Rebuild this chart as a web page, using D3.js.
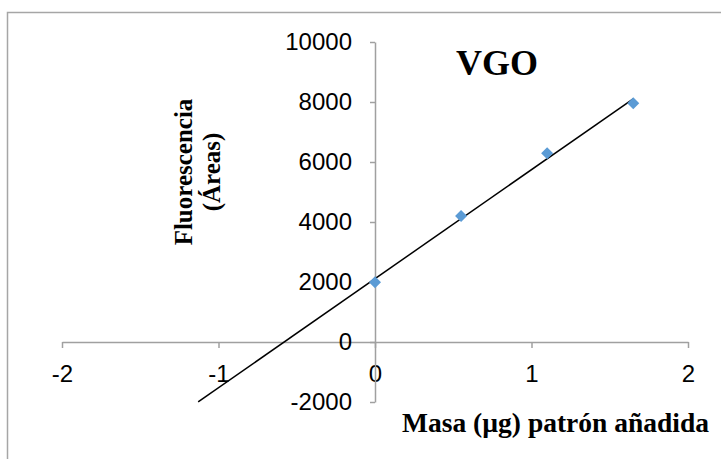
<!DOCTYPE html>
<html>
<head>
<meta charset="utf-8">
<script src="https://cdn.jsdelivr.net/npm/d3@7"></script>
<style>
  body { margin: 0; background: #fff; }
  svg { display: block; }
</style>
</head>
<body>
<div id="my_dataviz"></div>
<script>
// data
var masa = [0, 0.55, 1.1, 1.65];
var fluorescencia = [1990, 4200, 6290, 7957];
var xTicks = [-2, -1, 0, 1, 2];
var yTicks = [-2000, 0, 2000, 4000, 6000, 8000, 10000];
var backward = 1.13; // trendline forecast backward (units of x)

var width = 721, height = 459;

var svg = d3.select("#my_dataviz")
  .append("svg")
    .attr("width", width)
    .attr("height", height);

// chart area border (runs off the right and bottom edges)
svg.append("rect")
  .attr("x", 7.5)
  .attr("y", 12.5)
  .attr("width", 800)
  .attr("height", 500)
  .attr("fill", "none")
  .attr("stroke", "#a6a6a6")
  .attr("stroke-width", 1.5);

var x = d3.scaleLinear()
    .domain([-2, 2])
    .range([62, 688]);

var y = d3.scaleLinear()
    .domain([-2000, 10000])
    .range([402, 42]);

// plain hyphen for negatives, like the original
var fmt = d => String(d);

var xAxis = g => g
    .attr("transform", `translate(0,${y(0)})`)
    .call(d3.axisBottom(x).tickValues(xTicks).tickFormat(fmt)
      .tickSize(6).tickSizeOuter(0).tickPadding(17));

var yAxis = g => g
    .attr("transform", `translate(${x(0)},0)`)
    .call(d3.axisLeft(y).tickValues(yTicks).tickFormat(fmt)
      .tickSize(5).tickSizeOuter(0).tickPadding(18));

var styleAxis = g => {
  g.selectAll("path, line").attr("stroke", "#a0a0a0").attr("stroke-width", 1.5);
  g.selectAll("text")
    .attr("fill", "#000")
    .attr("font-family", "'Liberation Sans', Arial, sans-serif")
    .attr("font-size", 24);
};

svg.append("g").call(xAxis).call(styleAxis);
svg.append("g").call(yAxis).call(styleAxis);

// linear trendline (least squares on the points), forecast backward
var mx = d3.mean(masa), my = d3.mean(fluorescencia);
var sxy = d3.sum(masa, (d, i) => (d - mx) * (fluorescencia[i] - my));
var sxx = d3.sum(masa, d => (d - mx) * (d - mx));
var slope = sxy / sxx, intercept = my - slope * mx;
var x0 = d3.min(masa) - backward, x1 = d3.max(masa);

svg.append("line")
  .attr("x1", x(x0))
  .attr("y1", y(intercept + slope * x0))
  .attr("x2", x(x1))
  .attr("y2", y(intercept + slope * x1))
  .attr("stroke", "#000")
  .attr("stroke-width", 1.5);

// diamond markers
svg.append("g")
  .selectAll("path")
  .data(masa)
  .join("path")
  .attr("d", d3.symbol(d3.symbolSquare, 72))
  .attr("transform", (d, i) => `translate(${x(d)},${y(fluorescencia[i])}) rotate(45)`)
  .attr("fill", "#5b9bd5");

// titles
svg.append("text")
  .attr("x", 497)
  .attr("y", 75)
  .attr("text-anchor", "middle")
  .attr("font-family", "'Liberation Serif', 'Times New Roman', serif")
  .attr("font-weight", "bold")
  .attr("font-size", 36)
  .text("VGO");

var yTitle = svg.append("text")
  .attr("transform", "translate(192,172) rotate(-90)")
  .attr("text-anchor", "middle")
  .attr("font-family", "'Liberation Serif', 'Times New Roman', serif")
  .attr("font-weight", "bold")
  .attr("font-size", 25);
yTitle.append("tspan").attr("x", 0).attr("dy", 0).text("Fluorescencia");
yTitle.append("tspan").attr("x", 0).attr("dy", 28).text("(Áreas)");

svg.append("text")
  .attr("x", 709)
  .attr("y", 432)
  .attr("text-anchor", "end")
  .attr("font-family", "'Liberation Serif', 'Times New Roman', serif")
  .attr("font-weight", "bold")
  .attr("font-size", 27.5)
  .text("Masa (µg) patrón añadida");
</script>
</body>
</html>
